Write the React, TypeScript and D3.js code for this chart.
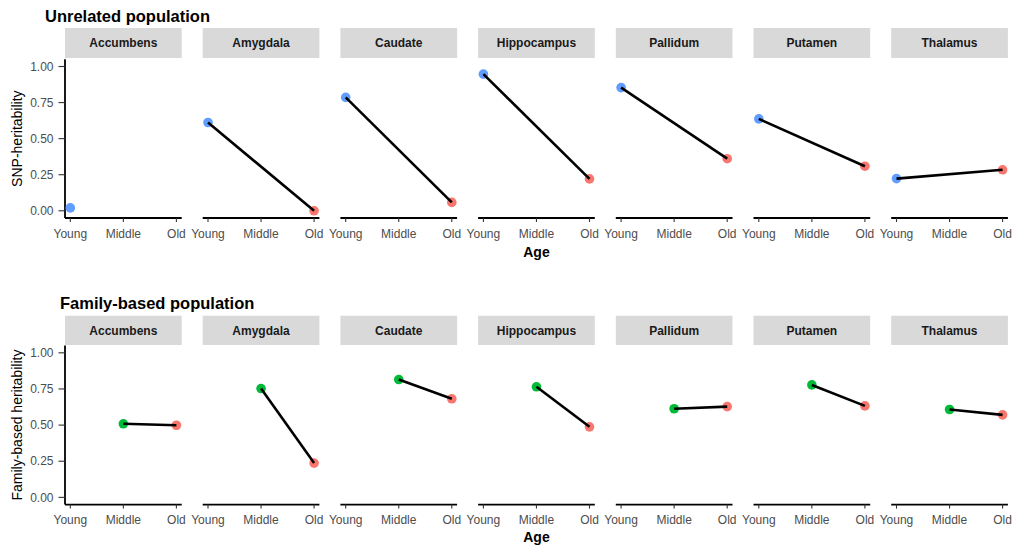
import React from "react";
import * as d3 from "d3";

const regions = ["Accumbens", "Amygdala", "Caudate", "Hippocampus", "Pallidum", "Putamen", "Thalamus"];
const ageLevels = ["Young", "Middle", "Old"];
const yTicks = [0, 0.25, 0.5, 0.75, 1.0];

// Unrelated population (SNP-heritability): Young and Old
const unrelatedYoung: (number | null)[] = [0.02, 0.612, 0.786, 0.947, 0.854, 0.637, 0.223];
const unrelatedOld: (number | null)[] = [null, 0.0, 0.058, 0.221, 0.361, 0.309, 0.284];

// Family-based population: Middle and Old
const familyMiddle: (number | null)[] = [0.509, 0.753, 0.815, 0.765, 0.613, 0.778, 0.608];
const familyOld: (number | null)[] = [0.499, 0.237, 0.682, 0.488, 0.628, 0.633, 0.571];

const ageColors: Record<string, string> = { Young: "#619CFF", Middle: "#00BA38", Old: "#F8766D" };

const FONT = "'Liberation Sans', Arial, Helvetica, sans-serif";

type Row = {
  title: string;
  titleX: number;
  titleY: number;
  yLabel: string;
  stripTop: number;
  stripBottom: number;
  panelTop: number;
  panelBottom: number;
  tickLabelY: number;
  ageY: number;
  series: { age: string; values: (number | null)[] }[];
};

const rows: Row[] = [
  {
    title: "Unrelated population",
    titleX: 45,
    titleY: 22,
    yLabel: "SNP-heritability",
    stripTop: 28,
    stripBottom: 58,
    panelTop: 59.3,
    panelBottom: 218,
    tickLabelY: 238,
    ageY: 256.7,
    series: [
      { age: "Young", values: unrelatedYoung },
      { age: "Old", values: unrelatedOld },
    ],
  },
  {
    title: "Family-based population",
    titleX: 60,
    titleY: 309,
    yLabel: "Family-based heritability",
    stripTop: 315.7,
    stripBottom: 345,
    panelTop: 345.6,
    panelBottom: 504.6,
    tickLabelY: 523.5,
    ageY: 542,
    series: [
      { age: "Middle", values: familyMiddle },
      { age: "Old", values: familyOld },
    ],
  },
];

const PANEL_LEFT = 65;
const PANEL_W = 116.7;
const PANEL_STEP = 137.7;

function Facet({ row }: { row: Row }) {
  const y = d3.scaleLinear().domain([-0.05, 1.05]).range([row.panelBottom, row.panelTop]);
  const line = d3
    .line<{ x: number; y: number }>()
    .x((d) => d.x)
    .y((d) => d.y);
  const fullLeft = PANEL_LEFT;
  const fullRight = PANEL_LEFT + PANEL_STEP * (regions.length - 1) + PANEL_W;
  const midY = (row.panelTop + row.panelBottom) / 2;
  return (
    <g>
      <text x={row.titleX} y={row.titleY} fontFamily={FONT} fontWeight="bold" fontSize={16.5} fill="#000">
        {row.title}
      </text>
      <text
        transform={`translate(${22},${midY}) rotate(-90)`}
        textAnchor="middle"
        fontFamily={FONT}
        fontSize={14}
        fill="#000"
      >
        {row.yLabel}
      </text>
      <text
        x={(fullLeft + fullRight) / 2}
        y={row.ageY}
        textAnchor="middle"
        fontFamily={FONT}
        fontWeight="bold"
        fontSize={14}
        fill="#000"
      >
        Age
      </text>
      {/* y axis on first panel */}
      <line x1={PANEL_LEFT} x2={PANEL_LEFT} y1={row.panelTop} y2={row.panelBottom} stroke="#000" strokeWidth={1.8} />
      {yTicks.map((t) => (
        <g key={t}>
          <line x1={PANEL_LEFT - 6.5} x2={PANEL_LEFT} y1={y(t)} y2={y(t)} stroke="#333" strokeWidth={1.1} />
          <text
            x={PANEL_LEFT - 11.5}
            y={y(t)}
            dy="0.35em"
            textAnchor="end"
            fontFamily={FONT}
            fontSize={12}
            fill="#4D4D4D"
          >
            {d3.format(".2f")(t)}
          </text>
        </g>
      ))}
      {regions.map((reg, i) => {
        const left = PANEL_LEFT + i * PANEL_STEP;
        const x = d3.scaleLinear().domain([0.9, 3.1]).range([left, left + PANEL_W]);
        const pts = row.series
          .map((s) => {
            const v = s.values[i];
            if (v === null || v === undefined) return null;
            return { age: s.age, x: x(ageLevels.indexOf(s.age) + 1), y: y(v) };
          })
          .filter((p): p is { age: string; x: number; y: number } => p !== null);
        return (
          <g key={reg}>
            <rect
              x={left}
              y={row.stripTop}
              width={PANEL_W}
              height={row.stripBottom - row.stripTop}
              fill="#D9D9D9"
            />
            <text
              x={left + PANEL_W / 2}
              y={(row.stripTop + row.stripBottom) / 2}
              dy="0.35em"
              textAnchor="middle"
              fontFamily={FONT}
              fontWeight="bold"
              fontSize={12}
              fill="#1A1A1A"
            >
              {reg}
            </text>
            <line x1={left} x2={left + PANEL_W} y1={row.panelBottom} y2={row.panelBottom} stroke="#000" strokeWidth={1.8} />
            {ageLevels.map((a, k) => (
              <g key={a}>
                <line
                  x1={x(k + 1)}
                  x2={x(k + 1)}
                  y1={row.panelBottom}
                  y2={row.panelBottom + 4}
                  stroke="#333"
                  strokeWidth={1.1}
                />
                <text
                  x={x(k + 1)}
                  y={row.tickLabelY}
                  textAnchor="middle"
                  fontFamily={FONT}
                  fontSize={12}
                  fill="#4D4D4D"
                >
                  {a}
                </text>
              </g>
            ))}
            {pts.map((p) => (
              <circle key={p.age} cx={p.x} cy={p.y} r={4.8} fill={ageColors[p.age]} />
            ))}
            {pts.length > 1 && (
              <path d={line(pts) || ""} fill="none" stroke="#000" strokeWidth={2.6} />
            )}
          </g>
        );
      })}
    </g>
  );
}

export default function App() {
  return (
    <svg
      width={1013}
      height={547}
      style={{ position: "absolute", left: 0, top: 0, background: "#fff" }}
    >
      <rect width={1013} height={547} fill="#fff" />
      {rows.map((r) => (
        <Facet key={r.title} row={r} />
      ))}
    </svg>
  );
}
